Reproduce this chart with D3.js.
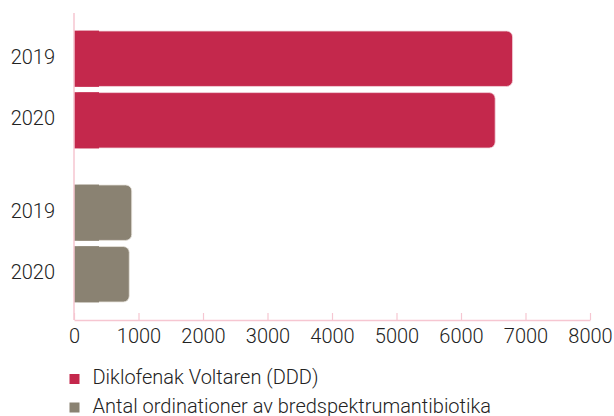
<!DOCTYPE html>
<html>
<head>
<meta charset="utf-8">
<script src="https://cdn.jsdelivr.net/npm/d3@7"></script>
<style>
	html, body { margin: 0; padding: 0; background: #fff; }
	svg { display: block; font-family: Roboto, "Liberation Sans", sans-serif; font-weight: 300; }
</style>
</head>
<body>
<svg id="chart" width="614" height="416"></svg>
<script>
	'use strict';

	//chart data
	var series = ['Diklofenak Voltaren (DDD)', 'Antal ordinationer av bredspektrumantibiotika'],
		years = ['2019', '2020'],
		voltaren = [6800, 6530],
		antibiotika = [895, 857],
		colors = ['#c4284c', '#8a8272'],
		xTicks = [0, 1000, 2000, 3000, 4000, 5000, 6000, 7000, 8000];

	var svg = d3.select('#chart'),
		axisColor = '#f6c6d1',
		fontSize = 20,
		values = [voltaren, antibiotika];

	//scales
	var x = d3.scaleLinear().domain([0, 8000]).range([74, 590]),
		group = d3.scaleBand().domain(series).range([13, 320])
			.paddingInner(0.24).paddingOuter(0.117),
		row = d3.scaleBand().domain(years).range([0, group.bandwidth()])
			.paddingInner(0.1).paddingOuter(0);

	//bars
	series.forEach(function(name, i) {
		var g = svg.append('g').attr('transform', 'translate(0,' + group(name) + ')');

		years.forEach(function(year, j) {
			var w = x(values[i][j]) - x(0);

			g.append('rect')
				.attr('x', x(0))
				.attr('y', row(year))
				.attr('width', w)
				.attr('height', row.bandwidth())
				.attr('rx', 6)
				.attr('fill', colors[i])
				.attr('stroke', i === 0 ? '#f4d9df' : '#e8e4dd')
				.attr('stroke-width', 0.8);

			//square off the left end
			g.append('rect')
				.attr('x', x(0))
				.attr('y', row(year) - 0.4)
				.attr('width', Math.min(25, w))
				.attr('height', row.bandwidth() + 0.8)
				.attr('fill', colors[i]);

			g.append('text')
				.attr('x', 55)
				.attr('y', row(year) + row.bandwidth() / 2 - 2)
				.attr('dy', '0.35em')
				.attr('text-anchor', 'end')
				.attr('font-size', fontSize)
				.attr('fill', '#222')
				.text(year);
		});
	});

	//axes
	var xAxis = d3.axisBottom(x).tickValues(xTicks).tickFormat(d3.format('d'))
		.tickSizeInner(-7).tickSizeOuter(0).tickPadding(9);

	var ax = svg.append('g').attr('transform', 'translate(0,320)').call(xAxis);
	ax.select('.domain').attr('stroke', axisColor).attr('stroke-width', 1.5);
	ax.selectAll('.tick line').attr('stroke', axisColor).attr('stroke-width', 1.2);
	ax.selectAll('.tick text')
		.attr('font-family', 'Roboto, "Liberation Sans", sans-serif')
		.attr('font-weight', 300)
		.attr('font-size', fontSize)
		.attr('fill', '#222');

	svg.append('line')
		.attr('x1', x(0)).attr('x2', x(0))
		.attr('y1', 13).attr('y2', 320)
		.attr('stroke', axisColor)
		.attr('stroke-width', 1.5);

	//legend
	var legend = svg.append('g').selectAll('g').data(series).join('g')
		.attr('transform', function(d, i) { return 'translate(69.5,' + (374 + i * 28.5) + ')'; });

	legend.append('rect')
		.attr('width', 10).attr('height', 10)
		.attr('fill', function(d, i) { return colors[i]; });

	legend.append('text')
		.attr('x', 23)
		.attr('y', 10)
		.attr('font-size', fontSize)
		.attr('fill', '#222')
		.text(function(d) { return d; });
</script>
</body>
</html>
